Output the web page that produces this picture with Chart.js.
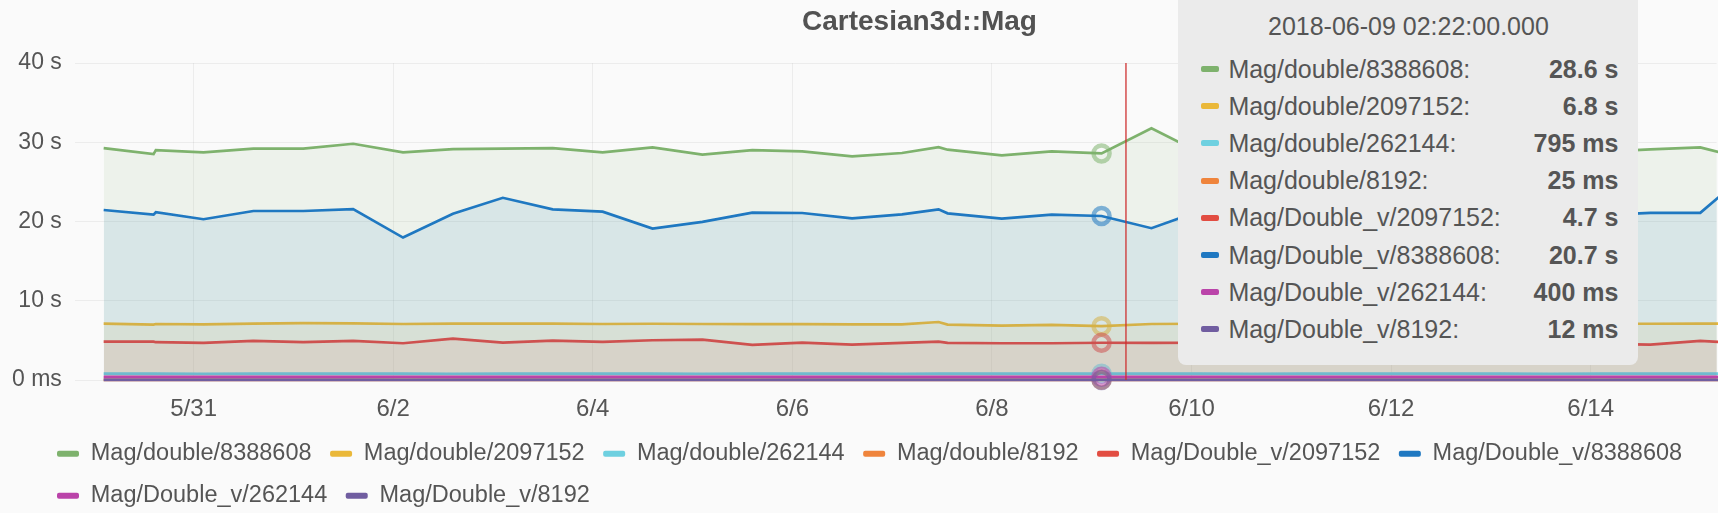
<!DOCTYPE html>
<html>
<head>
<meta charset="utf-8">
<script src="https://cdn.jsdelivr.net/npm/chart.js@4.4.1/dist/chart.umd.min.js"></script>
<style>
html,body{margin:0;padding:0;background:#fafafa;overflow:hidden}
#wrap{position:relative;width:1718px;height:513px}
#tip{position:absolute;top:-10px;width:460px;box-sizing:border-box;background:#ebebeb;border-radius:8px;
  font-family:"Liberation Sans",Arial,sans-serif;font-size:25px;color:#555;padding:21px 20px 16.5px 23px;pointer-events:none;display:none}
.tt-title{height:30px;line-height:30px;text-align:center;margin-bottom:9.5px;margin-left:-3px}
.tt-row{display:flex;align-items:center;height:37.2px;white-space:nowrap}
.tt-sw{width:18px;height:6px;border-radius:2px;margin-right:9px;flex:none}
.tt-lb{flex:1}
.tt-val{font-weight:bold}
</style>
</head>
<body>
<div id="wrap"><canvas id="c"></canvas><div id="tip"></div></div>
<script>
// ---------- data ----------
const chartTitle = 'Cartesian3d::Mag';
const times = [
  '2018-05-30 02:22','2018-05-30 14:22','2018-05-30 14:55','2018-05-31 02:22','2018-05-31 14:22',
  '2018-06-01 02:22','2018-06-01 14:22','2018-06-02 02:22','2018-06-02 14:22','2018-06-03 02:22',
  '2018-06-03 14:22','2018-06-04 02:22','2018-06-04 14:22','2018-06-05 02:22','2018-06-05 14:22',
  '2018-06-06 02:22','2018-06-06 14:22','2018-06-07 02:22','2018-06-07 11:10','2018-06-07 13:20',
  '2018-06-08 02:22','2018-06-08 14:22','2018-06-09 02:22','2018-06-09 14:22','2018-06-10 02:22',
  '2018-06-10 14:22','2018-06-11 02:22','2018-06-11 14:22','2018-06-12 02:22','2018-06-12 14:22',
  '2018-06-13 02:22','2018-06-13 14:22','2018-06-14 02:22','2018-06-14 14:22','2018-06-15 02:22',
  '2018-06-15 14:22'
];
const seriesLabels = [
  'Mag/double/8388608','Mag/double/2097152','Mag/double/262144','Mag/double/8192',
  'Mag/Double_v/2097152','Mag/Double_v/8388608','Mag/Double_v/262144','Mag/Double_v/8192'
];
const seriesColors = ['#7EB26D','#EAB839','#6ED0E0','#EF843C','#E24D42','#1F78C1','#BA43A9','#705DA0'];

// values in seconds
const magDouble8388608 = [29.27,28.52,29.02,28.73,29.2,29.2,29.82,28.73,29.15,29.2,29.27,28.73,29.36,28.44,29.02,28.86,28.23,28.65,29.4,29.07,28.36,28.86,28.6,31.78,28.6,29.1,28.8,29.2,28.7,29.0,28.9,29.3,28.8,29.1,29.36,27.8];
const magDouble2097152 = [7.11,6.99,7.07,7.03,7.11,7.19,7.15,7.07,7.11,7.11,7.11,7.07,7.1,7.07,7.05,7.05,7.03,7.03,7.32,7.0,6.86,6.95,6.8,7.07,7.1,7.05,7.1,7.08,7.1,7.05,7.1,7.12,7.1,7.1,7.12,7.1];
const magDouble262144 = [0.81,0.8,0.8,0.79,0.8,0.81,0.8,0.8,0.79,0.8,0.8,0.81,0.8,0.79,0.8,0.8,0.8,0.79,0.81,0.8,0.8,0.8,0.795,0.8,0.8,0.79,0.8,0.8,0.81,0.8,0.8,0.79,0.8,0.8,0.8,0.8];
const magDouble8192 = [0.025,0.025,0.025,0.026,0.025,0.025,0.025,0.024,0.025,0.025,0.025,0.025,0.026,0.025,0.025,0.025,0.024,0.025,0.025,0.025,0.025,0.025,0.025,0.025,0.025,0.026,0.025,0.025,0.025,0.024,0.025,0.025,0.025,0.025,0.025,0.025];
const magDoubleV2097152 = [4.85,4.85,4.77,4.68,4.94,4.77,4.94,4.64,5.23,4.73,4.98,4.81,5.02,5.1,4.43,4.73,4.47,4.68,4.85,4.68,4.64,4.64,4.7,4.68,4.7,4.75,4.65,4.8,4.7,4.6,4.75,4.7,4.55,4.47,4.93,4.6];
const magDoubleV8388608 = [21.46,20.87,21.17,20.29,21.33,21.33,21.58,17.98,20.99,23.0,21.54,21.25,19.11,19.95,21.12,21.08,20.41,20.91,21.54,21.04,20.37,20.87,20.7,19.16,21.4,20.8,21.2,20.5,21.0,20.6,21.3,20.9,20.8,21.1,21.1,26.5];
const magDoubleV262144 = [0.4,0.41,0.4,0.4,0.39,0.4,0.4,0.41,0.4,0.4,0.4,0.39,0.4,0.4,0.41,0.4,0.4,0.4,0.4,0.39,0.4,0.4,0.4,0.4,0.41,0.4,0.4,0.4,0.39,0.4,0.4,0.4,0.41,0.4,0.4,0.4];
const magDoubleV8192 = [0.012,0.012,0.012,0.013,0.012,0.012,0.012,0.012,0.011,0.012,0.012,0.012,0.012,0.013,0.012,0.012,0.012,0.012,0.012,0.012,0.011,0.012,0.012,0.012,0.012,0.012,0.013,0.012,0.012,0.012,0.012,0.012,0.012,0.011,0.012,0.012];
const seriesValues = [magDouble8388608,magDouble2097152,magDouble262144,magDouble8192,
                      magDoubleV2097152,magDoubleV8388608,magDoubleV262144,magDoubleV8192];

const xTickDates = ['2018-05-31','2018-06-02','2018-06-04','2018-06-06','2018-06-08','2018-06-10','2018-06-12','2018-06-14'];
const yTickValues = [0,10,20,30,40];
const rangeStart = '2018-05-29 19:26';
const rangeEnd = '2018-06-15 06:18';
const hoverTime = '2018-06-09 02:22';
const cursorTime = '2018-06-09 08:14';

// ---------- helpers ----------
const BASE = Date.UTC(2018,4,31);
function dayOffset(s){
  const [d,t] = s.split(' ');
  const [Y,M,D] = d.split('-').map(Number);
  const [h,m] = (t||'00:00').split(':').map(Number);
  return (Date.UTC(Y,M-1,D,h,m) - BASE)/86400000;
}
function fmtDay(v){
  const dt = new Date(BASE + Math.round(v*86400000));
  return (dt.getUTCMonth()+1) + '/' + dt.getUTCDate();
}
function fmtValue(v){
  if (v === 0) return '0 ms';
  if (Math.abs(v) >= 1) return (Math.round(v*10)/10).toFixed(1).replace(/\.0$/,'') + ' s';
  return Math.round(v*1000) + ' ms';
}
function rgba(hex,a){
  const n = parseInt(hex.slice(1),16);
  return `rgba(${n>>16&255},${n>>8&255},${n&255},${a})`;
}

const FONT = '"Liberation Sans", Arial, sans-serif';
Chart.defaults.font.family = FONT;
Chart.defaults.color = '#555';

const datasets = seriesLabels.map((label,i)=>({
  label,
  data: times.map((t,j)=>({x: dayOffset(t), y: seriesValues[i][j]})),
  borderColor: seriesColors[i],
  backgroundColor: rgba(seriesColors[i],0.1),
  borderWidth: 2.7,
  fill: 'origin',
  tension: 0,
  pointRadius: 0,
  pointHoverRadius: 8,
  pointHoverBorderWidth: 4.5,
  pointHoverBorderColor: rgba(seriesColors[i],0.55),
  pointHoverBackgroundColor: 'rgba(0,0,0,0)',
  order: seriesLabels.length - i,
  clip: false
}));

const cursorPlugin = {
  id: 'cursorLine',
  afterDatasetsDraw(chart, args, opts){
    const {ctx, chartArea, scales} = chart;
    const x = scales.x.getPixelForValue(dayOffset(opts.time));
    ctx.save();
    ctx.strokeStyle = opts.color;
    ctx.lineWidth = opts.width;
    ctx.beginPath();
    ctx.moveTo(x, chartArea.top);
    ctx.lineTo(x, chartArea.bottom);
    ctx.stroke();
    ctx.restore();
  }
};

const layoutTweaks = {
  id: 'layoutTweaks',
  afterLayout(chart, args, opts){
    const lg = chart.legend;
    if (lg){ lg.left += opts.legendDx; lg.right += opts.legendDx; lg.top += opts.legendDy; lg.bottom += opts.legendDy; }
    const tb = chart.titleBlock;
    if (tb){ tb.left += opts.titleDx; tb.right += opts.titleDx; }
  }
};

function externalTooltip(context){
  const {tooltip} = context;
  const el = document.getElementById('tip');
  if (!tooltip || tooltip.opacity === 0 || !tooltip.dataPoints) { el.style.display = 'none'; return; }
  const pts = tooltip.dataPoints.slice().sort((a,b)=>a.datasetIndex-b.datasetIndex);
  let html = `<div class="tt-title">${tooltip.title[0]}</div>`;
  pts.forEach(p=>{
    html += `<div class="tt-row"><span class="tt-sw" style="background:${p.dataset.borderColor}"></span>`+
            `<span class="tt-lb">${p.dataset.label}:</span><span class="tt-val">${fmtValue(p.parsed.y)}</span></div>`;
  });
  el.innerHTML = html;
  el.style.display = 'block';
  el.style.left = (tooltip.caretX + 76) + 'px';
}

const chart = new Chart(document.getElementById('c'), {
  type: 'line',
  data: { datasets },
  plugins: [cursorPlugin, layoutTweaks],
  options: {
    responsive: true,
    maintainAspectRatio: false,
    animation: false,
    events: [],
    layout: { padding: { left: -1, right: 0, top: 0, bottom: -19 } },
    interaction: { mode: 'index', intersect: false },
    scales: {
      x: {
        type: 'linear',
        min: dayOffset(rangeStart),
        max: dayOffset(rangeEnd),
        afterBuildTicks(axis){ axis.ticks = xTickDates.map(d=>({value: dayOffset(d)})); },
        ticks: {
          callback: v => fmtDay(v),
          autoSkip: false, maxRotation: 0, padding: 17,
          color: '#555', font: { size: 24, lineHeight: 1.0 }
        },
        grid: { color: 'rgba(0,0,0,0.055)', drawTicks: false },
        border: { display: false }
      },
      y: {
        min: 0, max: 40,
        afterBuildTicks(axis){ axis.ticks = yTickValues.map(v=>({value:v})); },
        ticks: { callback: v => fmtValue(v), padding: 13, color: '#555', font: { size: 23 } },
        grid: { color: 'rgba(0,0,0,0.055)', drawTicks: false },
        border: { display: false }
      }
    },
    plugins: {
      title: {
        display: true, text: chartTitle, color: '#525252',
        font: { size: 28, weight: 'bold' },
        padding: { top: 5, bottom: 24.5 }
      },
      legend: {
        position: 'bottom', align: 'start',
        labels: {
          boxWidth: 22, boxHeight: 6, useBorderRadius: true, borderRadius: 2,
          padding: 18.5, color: '#555', font: { size: 23.5 },
          generateLabels(ch){
            return ch.data.datasets.map((ds,i)=>({
              text: ds.label, fillStyle: ds.borderColor, strokeStyle: ds.borderColor,
              lineWidth: 0, hidden: false, datasetIndex: i, fontColor: '#555', borderRadius: 2
            }));
          }
        }
      },
      tooltip: {
        enabled: false,
        mode: 'index', intersect: false,
        external: externalTooltip,
        callbacks: { title: items => times[items[0].dataIndex] + ':00.000' }
      },
      cursorLine: { time: cursorTime, color: 'rgba(205,45,45,0.85)', width: 1.5 },
      layoutTweaks: { legendDx: 39.5, legendDy: -14.5, titleDx: 61 }
    }
  }
});

const hoverIndex = times.indexOf(hoverTime);
const active = datasets.map((d,i)=>({datasetIndex: i, index: hoverIndex}));
chart.setActiveElements(active);
chart.tooltip.setActiveElements(active, {x: 0, y: 0});
chart.update();
</script>
</body>
</html>
